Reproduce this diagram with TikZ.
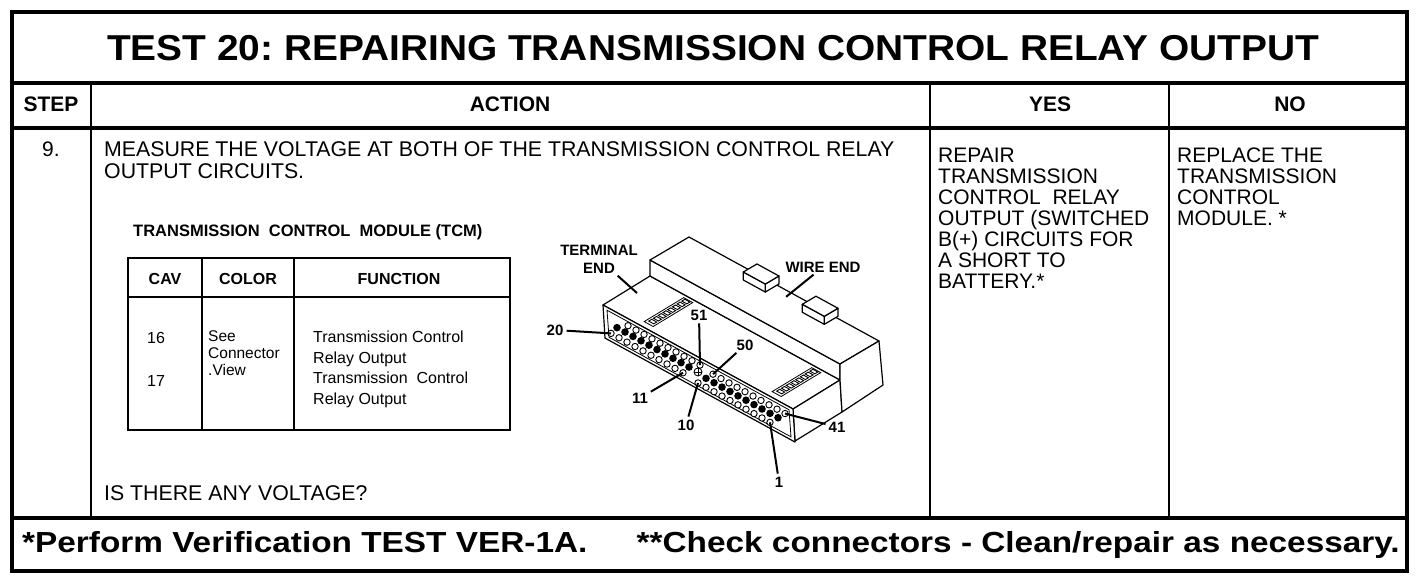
\documentclass[tikz,border=0pt]{standalone}
\usepackage{fontspec}
\setmainfont{Liberation Sans}
\newfontfamily\titlefont[FakeStretch=1.08]{Liberation Sans}
\newfontfamily\footfont[FakeStretch=1.15]{Liberation Sans}
\frenchspacing

\tikzset{
  rulebox/.style={line width=3.5pt},
  colrule/.style={line width=2.5pt},
  headtxt/.style={font=\fontsize{21}{22}\selectfont\bfseries, inner sep=0pt, anchor=base},
  bodytxt/.style={font=\fontsize{21.3}{22}\selectfont, inner sep=0pt, anchor=north west, align=left},
  celltxt/.style={font=\fontsize{16}{20.5}\selectfont, inner sep=0pt, anchor=north west, align=left},
  cellhead/.style={font=\fontsize{16}{18}\selectfont\bfseries, inner sep=0pt, anchor=base},
  tabrule/.style={line width=2pt},
  shellpart/.style={line width=1.2pt, fill=white, line join=round},
  hole/.style={line width=0.9pt, fill=white},
  dot/.style={fill=black},
  tag/.style={font=\fontsize{15}{18}\selectfont\bfseries, inner sep=1pt, align=center},
  leader/.style={line width=2pt, shorten <=2pt},
}

\begin{document}
\begin{tikzpicture}[x=1pt, y=-1pt]
\useasboundingbox (0,0) rectangle (1424,582);

% frame of the chart
\draw[rulebox] (12,12) rectangle (1407,571);
\draw[rulebox] (12,83) -- (1407,83);
\draw[rulebox] (12,128) -- (1407,128);
\draw[rulebox] (12,518) -- (1407,518);
\draw[colrule] (91,83) -- (91,518);
\draw[colrule] (930,83) -- (930,518);
\draw[colrule] (1169,83) -- (1169,518);

\node[font={\titlefont\bfseries\fontsize{36}{40}\selectfont}, inner sep=0pt, anchor=base] (title) at (713,60) {TEST 20: REPAIRING TRANSMISSION CONTROL RELAY OUTPUT};

\node[headtxt] (step) at (51,111) {STEP};
\node[headtxt] (action) at (510,111) {ACTION};
\node[headtxt] (yes) at (1050,111) {YES};
\node[headtxt] (no) at (1290,111) {NO};

\node[font=\fontsize{21}{22}\selectfont, inner sep=0pt, anchor=base] (num) at (51,156) {9.};
\node[bodytxt] (measure) at (104,141) {MEASURE THE VOLTAGE AT BOTH OF THE TRANSMISSION CONTROL RELAY\\OUTPUT CIRCUITS.};
\node[bodytxt, anchor=base west] (question) at (104,500) {IS THERE ANY VOLTAGE?};
\node[bodytxt, font=\fontsize{21}{21}\selectfont] (repair) at (938,148) {REPAIR\\TRANSMISSION\\CONTROL\ \ RELAY\\OUTPUT (SWITCHED\\B(+) CIRCUITS FOR\\A SHORT TO\\BATTERY.*};
\node[bodytxt, font=\fontsize{21}{21}\selectfont] (replace) at (1177,148) {REPLACE THE\\TRANSMISSION\\CONTROL\\MODULE. *};

% pin table
\node[font=\fontsize{16.5}{18}\selectfont\bfseries, inner sep=0pt, anchor=base west] (tcm) at (133,236) {TRANSMISSION\ \ CONTROL\ \ MODULE (TCM)};
\draw[tabrule] (128,258) rectangle (510,430);
\draw[tabrule] (128,297) -- (510,297);
\draw[tabrule] (202,258) -- (202,430);
\draw[tabrule] (294,258) -- (294,430);
\node[cellhead] (cav) at (165,284) {CAV};
\node[cellhead] (color) at (248,284) {COLOR};
\node[cellhead] (func) at (399,284) {FUNCTION};
\node[celltxt, anchor=base west] (c16) at (147,343) {16};
\node[celltxt, anchor=base west] (c17) at (147,386) {17};
\node[celltxt, font=\fontsize{15.5}{17}\selectfont] (see) at (208,330) {See\\Connector\\.View};
\node[celltxt] (fn) at (313,331) {Transmission Control\\Relay Output\\Transmission\ \ Control\\Relay Output};

% connector, lower body
\filldraw[shellpart] (603,305) -- (793,409) -- (840,380) -- (650,276) -- cycle;
\filldraw[shellpart] (793,409) -- (840,380) -- (842,412) -- (795,441) -- cycle;
% wire end shell
\filldraw[shellpart] (650,276) -- (840,380) -- (840,364) -- (650,260) -- cycle;
\filldraw[shellpart] (650,260) -- (840,364) -- (879,341) -- (689,237) -- cycle;
\filldraw[shellpart] (840,364) -- (879,341) -- (883,385) -- (842,412) -- (840,380) -- cycle;
\coordinate (termtip) at (637,293);

% latches on the shell
\begin{scope}[shift={(650,260)}, x={(1pt,-0.547pt)}, y={(39pt,23pt)}]
  \foreach \sx in {66,125} {
    \filldraw[shellpart] (\sx+22,0.7) -- (\sx+22,1.05) -- ([yshift=8pt]\sx+22,1.05) -- ([yshift=8pt]\sx+22,0.7) -- cycle;
    \filldraw[shellpart] (\sx,0.7) -- (\sx+22,0.7) -- ([yshift=8pt]\sx+22,0.7) -- ([yshift=8pt]\sx,0.7) -- cycle;
    \filldraw[shellpart] ([yshift=8pt]\sx,0.7) -- ([yshift=8pt]\sx+22,0.7) -- ([yshift=8pt]\sx+22,1.05) -- ([yshift=8pt]\sx,1.05) -- cycle;
  }
  \coordinate (wiretip) at (103,0.85);
\end{scope}

% terminal strips on top
\begin{scope}[shift={(603,305)}, x={(1pt,-0.547pt)}, y={(86pt,52pt)}]
  \foreach \sx in {36,164} {
    \draw[line width=0.8pt] (\sx,0.06) -- (\sx+9,0.06) -- (\sx+9,0.52) -- (\sx,0.52) -- cycle;
    \foreach \k in {0,...,7}
      \filldraw[hole] (\sx+2,0.09+0.055*\k) -- (\sx+7,0.09+0.055*\k) -- (\sx+7,0.125+0.055*\k) -- (\sx+2,0.125+0.055*\k) -- cycle;
  }
\end{scope}

% terminal face with cavities
\begin{scope}[shift={(603,305)}, x={(1pt,-0.547pt)}, y={(0pt,-1pt)}]
  \filldraw[shellpart] (0,0) -- (190,0) -- (192,32) -- (2,32) -- cycle;
  \draw[line width=0.8pt] (4,3) -- (186,3) -- (188,29) -- (6,29) -- cycle;
  \foreach \i in {0,...,9} {
    \filldraw[hole] (25+8*\i,7) circle (3.2pt);
    \fill[dot] (14+8*\i,15) circle (3.8pt);
    \filldraw[hole] (8+8*\i,24) circle (3.2pt);
    \filldraw[hole] (110+8*\i,9) circle (3.2pt);
    \fill[dot] (103+8*\i,17) circle (3.8pt);
    \filldraw[hole] (95+8*\i,26) circle (3.2pt);
  }
  \coordinate (key) at (95,15);
  \filldraw[hole] (key) circle (4pt);
  \draw[line width=0.9pt] ([xshift=-4pt]key) -- ([xshift=4pt]key);
  \draw[line width=0.9pt] ([yshift=-4pt]key) -- ([yshift=4pt]key);
  \coordinate (p20) at (8,24);
  \coordinate (p51) at (97,7);
  \coordinate (p50) at (110,9);
  \coordinate (p11) at (80,24);
  \coordinate (p10) at (95,26);
  \coordinate (p41) at (182,9);
  \coordinate (p1) at (167,26);
\end{scope}

% labels
\node[tag] (term) at (599,259) {TERMINAL\\END};
\node[tag] (wire) at (823,267) {WIRE END};
\node[tag] (n20) at (555,330) {20};
\node[tag] (n51) at (699,315) {51};
\node[tag] (n50) at (745,345) {50};
\node[tag] (n11) at (640,398) {11};
\node[tag] (n10) at (686,425) {10};
\node[tag] (n41) at (837,427) {41};
\node[tag] (n1) at (779,482) {1};

\draw[leader] (term) -- (termtip);
\draw[leader] (wire) -- (wiretip);
\draw[leader] (n20) -- (p20);
\draw[leader] (n51) -- (p51);
\draw[leader] (n50) -- (p50);
\draw[leader] (n11) -- (p11);
\draw[leader] (n10) -- (p10);
\draw[leader] (n41) -- (p41);
\draw[leader] (n1) -- (p1);

% footer
\node[font={\footfont\bfseries\fontsize{29}{32}\selectfont}, inner sep=0pt, anchor=base west] (footl) at (22,552) {*Perform Verification TEST VER-1A.};
\node[font={\footfont\bfseries\fontsize{29}{32}\selectfont}, inner sep=0pt, anchor=base east] (footr) at (1400,552) {**Check connectors - Clean/repair as necessary.};
\end{tikzpicture}
\end{document}
